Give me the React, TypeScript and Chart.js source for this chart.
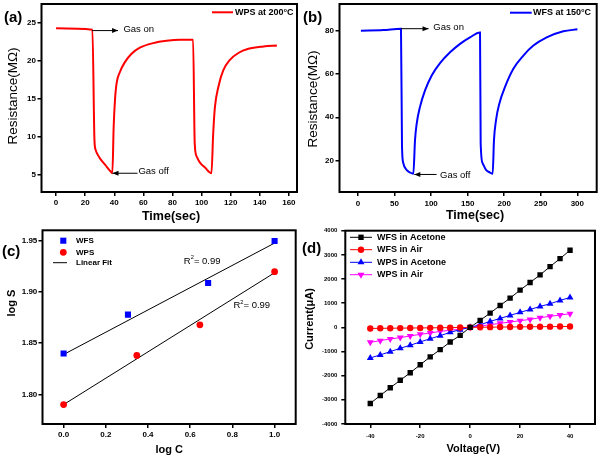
import React, { useEffect, useRef } from 'react';
import { Chart, registerables } from 'chart.js';

Chart.register(...registerables);

const FONT = '"Liberation Sans", Arial, Helvetica, sans-serif';

// ---------- Panel (a): WPS at 200 °C ----------
const A_TIME = [0, 25.0, 26.4, 27.3, 28.5, 30.3, 33.8, 38.0, 38.7, 39.6, 40.5, 41.6, 43.9, 47.3, 51.9, 57.6, 66.8, 76.0, 85.2, 94.2, 95.3, 96.7, 98.9, 102.4, 106.8, 108.0, 109.2, 111.5, 114.9, 119.5, 125.3, 132.2, 142.6, 151.8];
const A_RES = [24.25, 24.05, 9.5, 8.2, 7.65, 7.1, 6.27, 5.3, 5.17, 11.3, 14.8, 17.0, 18.5, 19.8, 20.9, 21.7, 22.3, 22.6, 22.73, 22.73, 9.1, 7.36, 6.57, 5.92, 5.17, 10.4, 13.9, 16.5, 18.7, 20.1, 21.0, 21.55, 21.86, 21.99];
const A_X_TICKS = [0, 20, 40, 60, 80, 100, 120, 140, 160];
const A_Y_TICKS = [5, 10, 15, 20, 25];

// ---------- Panel (b): WFS at 150 °C ----------
const B_TIME = [4, 34.7, 58.8, 60.2, 62.0, 65.7, 71.1, 75.7, 78.0, 80.3, 84.8, 91.7, 100.8, 112.2, 125.9, 139.6, 153.2, 166.9, 167.8, 170.5, 175.1, 180.6, 184.2, 186.0, 188.8, 193.3, 201.1, 212.5, 226.2, 239.9, 258.1, 280.9, 300.1];
const B_RES = [80.0, 80.3, 80.9, 26.4, 18.8, 16.0, 14.5, 13.9, 29.5, 37.1, 44.8, 52.4, 59.3, 65.0, 70.0, 73.9, 76.9, 79.1, 28.0, 18.8, 15.7, 14.5, 13.9, 29.5, 38.7, 46.3, 54.0, 62.4, 68.5, 73.1, 76.9, 79.7, 80.6];
const B_X_TICKS = [0, 50, 100, 150, 200, 250, 300];
const B_Y_TICKS = [20, 40, 60, 80];

// ---------- Panel (c): log S vs log C ----------
const C_LOGC_WFS = [0, 0.305, 0.685, 1.0];
const C_LOGS_WFS = [1.840, 1.878, 1.909, 1.950];
const C_LOGC_WPS = [0, 0.347, 0.646, 1.0];
const C_LOGS_WPS = [1.790, 1.838, 1.868, 1.920];
const C_FIT_X = [0, 1.0];
const C_FIT_WFS = [1.839, 1.948];
const C_FIT_WPS = [1.790, 1.919];
const C_X_TICKS = [0, 0.2, 0.4, 0.6, 0.8, 1.0];
const C_Y_TICKS = [1.80, 1.85, 1.90, 1.95];

// ---------- Panel (d): I-V ----------
const D_V = [-40, -36, -32, -28, -24, -20, -16, -12, -8, -4, 0, 4, 8, 12, 16, 20, 24, 28, 32, 36, 40];
const D_WFS_ACETONE = [-3150, -2820, -2500, -2190, -1880, -1550, -1220, -920, -605, -330, 0, 290, 590, 905, 1210, 1540, 1855, 2170, 2515, 2845, 3190];
const D_WFS_AIR = [-45, -40, -36, -32, -28, -24, -20, -16, -12, -6, 0, 5, 9, 12, 16, 20, 24, 27, 30, 33, 36];
const D_WPS_ACETONE = [-1265, -1140, -1005, -865, -740, -605, -470, -345, -205, -95, 0, 110, 245, 370, 495, 620, 740, 865, 975, 1115, 1235];
const D_WPS_AIR = [-620, -550, -480, -425, -355, -290, -235, -165, -125, -70, 0, 55, 110, 165, 220, 275, 330, 400, 455, 510, 565];
const D_X_TICKS = [-40, -20, 0, 20, 40];
const D_Y_TICKS = [-4000, -3000, -2000, -1000, 0, 1000, 2000, 3000, 4000];

const pts = (xs: number[], ys: number[]) => xs.map((x, i) => ({ x, y: ys[i] }));

type ScaleCfg = { min: number; max: number; ticks: number[]; decimals: number; size: number; pad: number; fit: number; horizontal: boolean };

function scaleOpts(c: ScaleCfg) {
  return {
    type: 'linear',
    min: c.min,
    max: c.max,
    afterBuildTicks: (s: any) => { s.ticks = c.ticks.map((v) => ({ value: v })); },
    afterFit: (s: any) => {
      if (c.horizontal) { s.height = c.fit; s.paddingLeft = 0; s.paddingRight = 0; }
      else { s.width = c.fit; s.paddingTop = 0; s.paddingBottom = 0; }
    },
    grid: { display: true, drawOnChartArea: false, drawTicks: true, tickLength: 4, tickWidth: 1.5, tickColor: '#000', color: '#000', lineWidth: 1.5 },
    border: { display: false },
    ticks: {
      color: '#000', padding: c.pad, autoSkip: false, maxRotation: 0, minRotation: 0,
      font: { family: FONT, size: c.size, weight: 'bold' },
      callback: (v: any) => Number(v).toFixed(c.decimals),
    },
  };
}

type TextSpec = { text: string; x: number; y: number; size: number; weight?: string; rotate?: boolean; align?: CanvasTextAlign };
type ArrowSpec = { x1: number; y1: number; x2: number; y2: number };
type NoteSpec = { parts: { t: string; sup?: boolean }[]; x: number; y: number; size: number; weight?: string };
type LegendSpec = { x1: number; x2: number; mx: number; textX: number; rows: number[]; size: number; weight: string; items: number[] };
type Decor = { texts: TextSpec[]; arrows?: ArrowSpec[]; notes?: NoteSpec[]; legend: LegendSpec };

function drawMarker(ctx: CanvasRenderingContext2D, style: string, x: number, y: number, r: number, rot: number, color: string) {
  ctx.fillStyle = color;
  ctx.beginPath();
  if (style === 'rect') {
    const s = r / Math.SQRT2 * 1;
    const h = Math.SQRT1_2 * r;
    ctx.rect(x - h, y - h, 2 * h, 2 * h);
    void s;
  } else if (style === 'triangle') {
    let a = (rot * Math.PI) / 180;
    ctx.moveTo(x + Math.sin(a) * r, y - Math.cos(a) * r);
    a += (2 * Math.PI) / 3;
    ctx.lineTo(x + Math.sin(a) * r, y - Math.cos(a) * r);
    a += (2 * Math.PI) / 3;
    ctx.lineTo(x + Math.sin(a) * r, y - Math.cos(a) * r);
    ctx.closePath();
  } else {
    ctx.arc(x, y, r, 0, Math.PI * 2);
  }
  ctx.fill();
}

function decorPlugin(d: Decor) {
  return {
    id: 'decor',
    afterDraw(chart: any) {
      const ctx: CanvasRenderingContext2D = chart.ctx;
      const a = chart.chartArea;
      const xs = chart.scales.x;
      const ys = chart.scales.y;
      ctx.save();
      ctx.strokeStyle = '#000';
      ctx.lineWidth = 2;
      ctx.strokeRect(a.left, a.top, a.right - a.left, a.bottom - a.top);

      for (const ar of d.arrows ?? []) {
        const x1 = xs.getPixelForValue(ar.x1), y1 = ys.getPixelForValue(ar.y1);
        const x2 = xs.getPixelForValue(ar.x2), y2 = ys.getPixelForValue(ar.y2);
        ctx.strokeStyle = '#000';
        ctx.fillStyle = '#000';
        ctx.lineWidth = 1;
        ctx.beginPath();
        ctx.moveTo(x1, y1);
        ctx.lineTo(x2, y2);
        ctx.stroke();
        const ang = Math.atan2(y2 - y1, x2 - x1);
        const L = 6, W = 2.5;
        ctx.beginPath();
        ctx.moveTo(x2, y2);
        ctx.lineTo(x2 - L * Math.cos(ang) + W * Math.sin(ang), y2 - L * Math.sin(ang) - W * Math.cos(ang));
        ctx.lineTo(x2 - L * Math.cos(ang) - W * Math.sin(ang), y2 - L * Math.sin(ang) + W * Math.cos(ang));
        ctx.closePath();
        ctx.fill();
      }

      for (const n of d.notes ?? []) {
        let x = xs.getPixelForValue(n.x);
        const y = ys.getPixelForValue(n.y);
        for (const p of n.parts) {
          const sz = p.sup ? n.size * 0.6 : n.size;
          ctx.font = `${n.weight ?? 'normal'} ${sz}px ${FONT}`;
          ctx.textBaseline = 'middle';
          ctx.textAlign = 'left';
          ctx.fillStyle = '#000';
          ctx.fillText(p.t, x, p.sup ? y - n.size * 0.38 : y);
          x += ctx.measureText(p.t).width;
        }
      }

      for (const t of d.texts) {
        ctx.font = `${t.weight ?? 'normal'} ${t.size}px ${FONT}`;
        ctx.fillStyle = '#000';
        ctx.textBaseline = 'middle';
        ctx.textAlign = t.align ?? 'center';
        if (t.rotate) {
          ctx.save();
          ctx.translate(t.x, t.y);
          ctx.rotate(-Math.PI / 2);
          ctx.fillText(t.text, 0, 0);
          ctx.restore();
        } else {
          ctx.fillText(t.text, t.x, t.y);
        }
      }

      const lg = d.legend;
      lg.items.forEach((idx, i) => {
        const ds = chart.data.datasets[idx];
        const y = lg.rows[i];
        if (ds.showLine !== false) {
          ctx.strokeStyle = ds.borderColor;
          ctx.lineWidth = ds.borderWidth ?? 1;
          ctx.beginPath();
          ctx.moveTo(lg.x1, y);
          ctx.lineTo(lg.x2, y);
          ctx.stroke();
        }
        if ((ds.pointRadius ?? 0) > 0) {
          drawMarker(ctx, ds.pointStyle ?? 'circle', lg.mx, y, ds.pointRadius, ds.pointRotation ?? 0, ds.backgroundColor);
        }
        ctx.font = `${lg.weight} ${lg.size}px ${FONT}`;
        ctx.fillStyle = '#000';
        ctx.textBaseline = 'middle';
        ctx.textAlign = 'left';
        ctx.fillText(ds.label, lg.textX, y);
      });
      ctx.restore();
    },
  };
}

type PanelSpec = {
  left: number; top: number; width: number; height: number;
  area: { left: number; top: number; right: number; bottom: number };
  type: string;
  datasets: any[];
  x: Omit<ScaleCfg, 'fit' | 'horizontal'>;
  y: Omit<ScaleCfg, 'fit' | 'horizontal'>;
  decor: Decor;
};

function buildConfig(p: PanelSpec) {
  return {
    type: p.type,
    data: { datasets: p.datasets },
    options: {
      animation: false,
      responsive: false,
      maintainAspectRatio: false,
      devicePixelRatio: 1,
      layout: { padding: { left: 0, top: p.area.top, right: p.width - p.area.right, bottom: 0 } },
      plugins: { legend: { display: false }, tooltip: { enabled: false }, title: { display: false } },
      scales: {
        x: { ...scaleOpts({ ...p.x, fit: p.height - p.area.bottom, horizontal: true }), position: 'bottom' },
        y: { ...scaleOpts({ ...p.y, fit: p.area.left, horizontal: false }), position: 'left' },
      },
    },
    plugins: [decorPlugin(p.decor)],
  };
}

const PANEL_A: PanelSpec = {
  left: 0, top: 0, width: 300, height: 226,
  area: { left: 41.5, top: 4, right: 297, bottom: 192 },
  type: 'line',
  datasets: [{
    label: 'WPS at 200°C', data: pts(A_TIME, A_RES), borderColor: '#ff0000', backgroundColor: '#ff0000',
    borderWidth: 2, pointRadius: 0, cubicInterpolationMode: 'monotone', fill: false,
  }],
  x: { min: -10, max: 165.6, ticks: A_X_TICKS, decimals: 0, size: 8, pad: 2 },
  y: { min: 2.7, max: 27.45, ticks: A_Y_TICKS, decimals: 0, size: 8, pad: 1.5 },
  decor: {
    texts: [
      { text: '(a)', x: 4, y: 18, size: 15, weight: 'bold', align: 'left' },
      { text: 'Resistance(MΩ)', x: 13, y: 96, size: 13.5, rotate: true },
      { text: 'Time(sec)', x: 171, y: 216.5, size: 12.5, weight: 'bold' },
    ],
    arrows: [
      { x1: 24.8, y1: 23.95, x2: 42.6, y2: 23.95 },
      { x1: 56.0, y1: 5.17, x2: 38.8, y2: 5.17 },
    ],
    notes: [
      { parts: [{ t: 'Gas on' }], x: 46.3, y: 24.15, size: 9.5 },
      { parts: [{ t: 'Gas off' }], x: 56.6, y: 5.4, size: 9.5 },
    ],
    legend: { x1: 212, x2: 233, mx: 222, textX: 235, rows: [12.3], size: 9, weight: 'bold', items: [0] },
  },
};

const PANEL_B: PanelSpec = {
  left: 300, top: 0, width: 299, height: 223,
  area: { left: 39.5, top: 4, right: 296.7, bottom: 192 },
  type: 'line',
  datasets: [{
    label: 'WFS at 150°C', data: pts(B_TIME, B_RES), borderColor: '#0000ff', backgroundColor: '#0000ff',
    borderWidth: 2, pointRadius: 0, cubicInterpolationMode: 'monotone', fill: false,
  }],
  x: { min: -25.3, max: 326.5, ticks: B_X_TICKS, decimals: 0, size: 8, pad: 3 },
  y: { min: 5.5, max: 92.3, ticks: B_Y_TICKS, decimals: 0, size: 8, pad: 1.5 },
  decor: {
    texts: [
      { text: '(b)', x: 3, y: 18, size: 15, weight: 'bold', align: 'left' },
      { text: 'Resistance(MΩ)', x: 13, y: 99, size: 13.5, rotate: true },
      { text: 'Time(sec)', x: 175, y: 216, size: 12.5, weight: 'bold' },
    ],
    arrows: [
      { x1: 58.8, y1: 80.9, x2: 96.5, y2: 80.9 },
      { x1: 107.5, y1: 13.6, x2: 77.0, y2: 13.6 },
    ],
    notes: [
      { parts: [{ t: 'Gas on' }], x: 103, y: 81.4, size: 9.5 },
      { parts: [{ t: 'Gas off' }], x: 112.2, y: 13.4, size: 9.5 },
    ],
    legend: { x1: 210, x2: 231.7, mx: 220, textX: 233, rows: [12.7], size: 9, weight: 'bold', items: [0] },
  },
};

const PANEL_C: PanelSpec = {
  left: 0, top: 226, width: 300, height: 232,
  area: { left: 42.5, top: 3.3, right: 297, bottom: 198 },
  type: 'scatter',
  datasets: [
    { label: 'WFS', data: pts(C_LOGC_WFS, C_LOGS_WFS), showLine: false, pointStyle: 'rect', pointRadius: 4.3, backgroundColor: '#0000ff', borderColor: '#0000ff', borderWidth: 0 },
    { label: 'WPS', data: pts(C_LOGC_WPS, C_LOGS_WPS), showLine: false, pointStyle: 'circle', pointRadius: 3.4, backgroundColor: '#ff0000', borderColor: '#ff0000', borderWidth: 0 },
    { label: 'Linear Fit', data: pts(C_FIT_X, C_FIT_WFS), showLine: true, pointRadius: 0, borderColor: '#000000', backgroundColor: '#000000', borderWidth: 1 },
    { label: 'Linear Fit (WPS)', data: pts(C_FIT_X, C_FIT_WPS), showLine: true, pointRadius: 0, borderColor: '#000000', backgroundColor: '#000000', borderWidth: 1 },
  ],
  x: { min: -0.1, max: 1.1, ticks: C_X_TICKS, decimals: 1, size: 8, pad: 2 },
  y: { min: 1.771, max: 1.9605, ticks: C_Y_TICKS, decimals: 2, size: 8, pad: 1.2 },
  decor: {
    texts: [
      { text: '(c)', x: 2, y: 26, size: 15, weight: 'bold', align: 'left' },
      { text: 'log S', x: 12, y: 77, size: 11, weight: 'bold', rotate: true },
      { text: 'log C', x: 169.3, y: 224, size: 11, weight: 'bold' },
    ],
    notes: [
      { parts: [{ t: 'R' }, { t: '2', sup: true }, { t: '= 0.99' }], x: 0.57, y: 1.9305, size: 9.5 },
      { parts: [{ t: 'R' }, { t: '2', sup: true }, { t: '= 0.99' }], x: 0.805, y: 1.8867, size: 9.5 },
    ],
    legend: { x1: 53, x2: 67, mx: 63.3, textX: 76, rows: [14.7, 26.3, 36.7], size: 8, weight: 'bold', items: [0, 1, 2] },
  },
};

const PANEL_D: PanelSpec = {
  left: 300, top: 223, width: 299, height: 235,
  area: { left: 45.3, top: 7.7, right: 296.7, bottom: 201 },
  type: 'line',
  datasets: [
    { label: 'WFS in Acetone', data: pts(D_V, D_WFS_ACETONE), borderColor: '#000000', backgroundColor: '#000000', borderWidth: 1, pointStyle: 'rect', pointRadius: 3.8, pointBorderWidth: 0 },
    { label: 'WFS in Air', data: pts(D_V, D_WFS_AIR), borderColor: '#ff0000', backgroundColor: '#ff0000', borderWidth: 1, pointStyle: 'circle', pointRadius: 3.2, pointBorderWidth: 0 },
    { label: 'WPS in Acetone', data: pts(D_V, D_WPS_ACETONE), borderColor: '#0000ff', backgroundColor: '#0000ff', borderWidth: 1, pointStyle: 'triangle', pointRadius: 4, pointBorderWidth: 0 },
    { label: 'WPS in Air', data: pts(D_V, D_WPS_AIR), borderColor: '#ff00ff', backgroundColor: '#ff00ff', borderWidth: 1, pointStyle: 'triangle', pointRotation: 180, pointRadius: 4, pointBorderWidth: 0 },
  ],
  x: { min: -50, max: 50, ticks: D_X_TICKS, decimals: 0, size: 6, pad: 5 },
  y: { min: -4000, max: 4000, ticks: D_Y_TICKS, decimals: 0, size: 6, pad: 4 },
  decor: {
    texts: [
      { text: '(d)', x: 2, y: 26, size: 15, weight: 'bold', align: 'left' },
      { text: 'Current(μA)', x: 10, y: 96, size: 11, weight: 'bold', rotate: true },
      { text: 'Voltage(V)', x: 173.3, y: 226, size: 11, weight: 'bold' },
    ],
    legend: { x1: 50, x2: 72, mx: 61, textX: 77, rows: [14.3, 26.7, 39.3, 51.7], size: 9, weight: 'bold', items: [0, 1, 2, 3] },
  },
};

function ChartPanel({ spec }: { spec: PanelSpec }) {
  const ref = useRef<HTMLCanvasElement>(null);
  useEffect(() => {
    if (!ref.current) return;
    const chart = new Chart(ref.current, buildConfig(spec) as any);
    return () => chart.destroy();
  }, [spec]);
  return (
    <canvas
      ref={ref}
      width={spec.width}
      height={spec.height}
      style={{ position: 'absolute', left: spec.left, top: spec.top, width: spec.width, height: spec.height }}
    />
  );
}

export default function App() {
  return (
    <div style={{ position: 'fixed', left: 0, top: 0, width: 599, height: 458, background: '#ffffff', overflow: 'hidden' }}>
      <ChartPanel spec={PANEL_A} />
      <ChartPanel spec={PANEL_B} />
      <ChartPanel spec={PANEL_C} />
      <ChartPanel spec={PANEL_D} />
    </div>
  );
}
